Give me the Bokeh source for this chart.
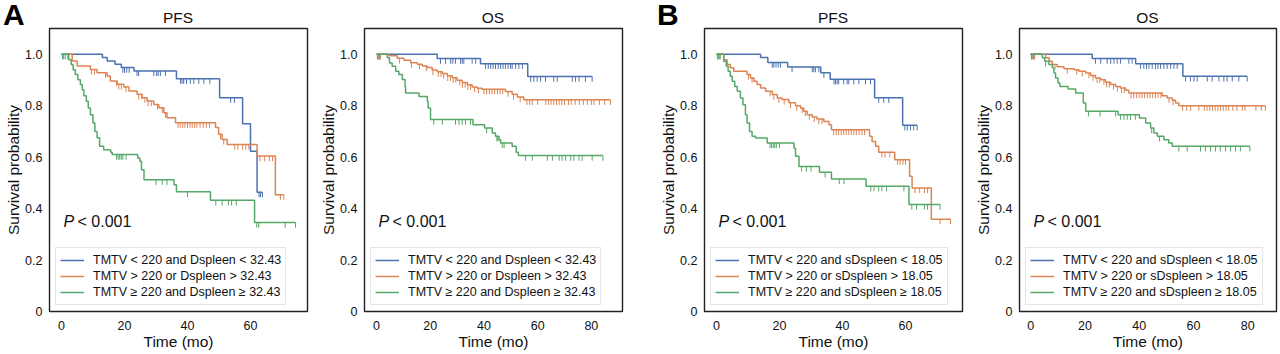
import numpy as np
from bokeh.plotting import figure
from bokeh.layouts import row, column
from bokeh.models import Range1d, FixedTicker, Label, Legend, LegendItem, Div
from bokeh.embed import file_html
from bokeh.resources import INLINE

FONT = "Liberation Sans"
TXT = "#111111"
C_LOW, C_MID, C_HIGH = "#4C72B0", "#DD8452", "#55A868"

# ---------------- texts / ticks ----------------
panel_titles = ["PFS", "OS", "PFS", "OS"]
panel_letters = ["A", "", "B", ""]
y_ticks = [0, 0.2, 0.4, 0.6, 0.8, 1.0]
y_tick_labels = ["0", "0.2", "0.4", "0.6", "0.8", "1.0"]
x_ticks_pfs = [0, 20, 40, 60]
x_ticks_os = [0, 20, 40, 60, 80]
x_label = "Time (mo)"
y_label = "Survival probability"
p_italic = "P"
p_rest = "< 0.001"
legend_a = ["TMTV < 220 and Dspleen < 32.43",
            "TMTV > 220 or Dspleen > 32.43",
            "TMTV \u2265 220 and Dspleen \u2265 32.43"]
legend_b = ["TMTV < 220 and sDspleen < 18.05",
            "TMTV > 220 or sDspleen > 18.05",
            "TMTV \u2265 220 and sDspleen \u2265 18.05"]

# ---------------- A: PFS ----------------
a_pfs_low_t = [13, 14.5, 17, 19, 23, 36.5, 50.2, 57.5, 60, 62.1]
a_pfs_low_s = [0.987, 0.974, 0.961, 0.948, 0.935, 0.905, 0.831, 0.730, 0.623, 0.464]
a_pfs_low_c = [19.5, 20, 20.7, 21.5, 24, 24.5, 29.3, 30.2, 30.7, 31.4, 33, 37.8, 38.3, 38.8, 39.7,
               40.9, 42, 43.6, 45.2, 47.1, 53.7, 54.9, 62.7, 63.2, 63.8]
a_pfs_mid_t = [3.4, 5.0, 9.2, 11.3, 14.5, 15.5, 17.7, 19.8, 21.4, 24.0, 25.6, 27.2, 29.3, 30.9,
               32.5, 33.5, 36.2, 48.9, 49.9, 51.0, 52.6, 62.1, 67.9]
a_pfs_mid_s = [0.974, 0.954, 0.941, 0.928, 0.915, 0.896, 0.883, 0.873, 0.857, 0.844, 0.831, 0.818,
               0.805, 0.792, 0.773, 0.753, 0.734, 0.715, 0.689, 0.669, 0.649, 0.604, 0.454]
a_pfs_mid_c = [2.0, 9.5, 10.5, 14, 17.5, 18.2, 19, 20.5, 24.5, 25.5, 26.5, 27.5, 28.5, 30.5, 32, 33,
               37, 37.7, 38.5, 39.2, 40, 40.8, 41.5, 42.3, 43, 44, 45, 46, 47, 50.5, 51.5, 55, 56,
               57.5, 58.5, 59.5, 63, 64.5, 66, 67, 69.5, 70.6]
a_pfs_high_t = [2.3, 3.1, 3.7, 4.4, 5.2, 6.0, 6.6, 7.1, 7.9, 8.5, 9.2, 10.0, 10.6, 11.3, 12.1, 13.4,
                15.6, 16.1, 24.2, 24.9, 25.4, 26.2, 35.7, 36.5, 47.3, 61.3]
a_pfs_high_s = [0.979, 0.960, 0.940, 0.921, 0.901, 0.882, 0.862, 0.839, 0.817, 0.791, 0.765, 0.733,
                0.700, 0.675, 0.642, 0.629, 0.619, 0.610, 0.597, 0.584, 0.551, 0.512, 0.493, 0.465,
                0.432, 0.346]
a_pfs_high_c = [0.3, 0.7, 1.2, 17.5, 18, 18.5, 19, 19.5, 20.5, 30, 32, 33.5, 40, 49, 51, 53, 54, 55.5,
                62, 62.6, 71, 74.3]

# ---------------- A: OS ----------------
a_os_low_t = [22.6, 38.7, 56.3]
a_os_low_s = [0.983, 0.963, 0.913]
a_os_low_c = [0.5, 1.2, 23.8, 25.7, 27.6, 28.4, 29.4, 31.3, 31.9, 32.5, 35.6, 36.9, 40.6, 41.6, 42.5,
              43.4, 44.3, 45.3, 46.2, 47.1, 48.0, 49.0, 49.9, 50.5, 51.8, 53.0, 54.3, 57.4, 58.6,
              59.8, 61.1, 62.9, 66.0, 67.3, 72.9, 74.1, 75.4, 77.8, 80.3]
a_os_mid_t = [4.6, 7.7, 10.2, 12.7, 15.2, 17.0, 18.9, 20.7, 22.6, 24.5, 26.3, 28.2, 30.0, 31.9,
              33.8, 35.6, 37.5, 39.3, 48.0, 50.5, 52.4, 54.8]
a_os_mid_s = [0.994, 0.984, 0.977, 0.967, 0.961, 0.954, 0.948, 0.939, 0.932, 0.925, 0.916, 0.909,
              0.899, 0.890, 0.881, 0.873, 0.868, 0.864, 0.855, 0.844, 0.834, 0.823]
a_os_mid_c = [0.5, 1.5, 8.5, 13, 16, 18.5, 21, 23, 24, 25, 26.5, 27.5, 28.5, 29.5, 31, 32, 33, 34, 35,
              36.5, 38, 40, 41, 42, 43, 44, 45, 46, 47, 49, 51, 53.5, 56, 57, 58, 60, 63, 64, 65,
              66, 67, 68, 69, 70, 71.5, 72.5, 74, 75.5, 77, 78.5, 80, 81, 83, 85, 87.1]
a_os_high_t = [4.0, 4.8, 5.8, 7.1, 8.3, 9.6, 10.6, 10.8, 15.8, 18.9, 19.2, 20.1, 35.9, 40.2, 43.1,
               44.3, 45.6, 46.2, 50.5, 52.0, 52.8]
a_os_high_s = [0.986, 0.966, 0.953, 0.934, 0.921, 0.902, 0.875, 0.849, 0.836, 0.817, 0.791, 0.746,
               0.726, 0.713, 0.694, 0.681, 0.668, 0.655, 0.642, 0.619, 0.606]
a_os_high_c = [0.3, 1.0, 21.3, 24.5, 29.4, 30.7, 31.9, 33.1, 35.0, 41.0, 44.8, 45.2, 46.8, 47.5, 55.5,
               58.0, 63.6, 65.5, 68.0, 69.1, 70.4, 72.3, 73.5, 75.4, 76.6, 80.3, 84.3]

# ---------------- B: PFS ----------------
b_pfs_low_t = [14, 16.3, 22.6, 33.1, 36.1, 50.2, 59.1]
b_pfs_low_s = [0.987, 0.968, 0.950, 0.928, 0.903, 0.831, 0.724]
b_pfs_low_c = [17.7, 18.2, 18.9, 19.6, 20.3, 24, 30.4, 30.9, 31.4, 32.5, 34.1, 37.3, 37.8, 38.3, 38.8,
               40.4, 41.5, 42, 43.6, 45.2, 47.3, 48.9, 51.5, 53.1, 54.7, 59.8, 60.6, 61.6, 62.6, 63.7]
b_pfs_mid_t = [2.3, 3.4, 4.4, 5.5, 9.7, 10.8, 11.9, 12.9, 14.0, 15.6, 17.7, 19.3, 20.8, 23.0, 25.1,
               26.7, 27.7, 28.8, 30.4, 31.9, 34.1, 35.7, 36.5, 48.6, 49.4, 50.5, 51.5, 56.6, 61.3,
               62.1, 68.2]
b_pfs_mid_s = [0.979, 0.960, 0.947, 0.934, 0.921, 0.908, 0.895, 0.882, 0.869, 0.856, 0.843, 0.830,
               0.824, 0.811, 0.800, 0.791, 0.778, 0.765, 0.756, 0.748, 0.739, 0.726, 0.706, 0.681,
               0.661, 0.642, 0.619, 0.590, 0.526, 0.480, 0.359]
b_pfs_mid_c = [1.0, 10.2, 11.3, 17.0, 18.2, 19.8, 21.5, 23.5, 25.5, 27.2, 28.2, 29.5, 31.0, 32.5, 33.5,
               37.2, 38.0, 38.8, 39.6, 40.4, 41.2, 42.0, 42.8, 43.6, 44.4, 45.3, 46.2, 47.0, 52.5,
               53.5, 55.0, 57.5, 58.3, 59.2, 60.0, 63.0, 64.5, 66.0, 67.0, 71.0, 74.3]
b_pfs_high_t = [2.3, 3.1, 3.7, 4.4, 5.0, 5.8, 6.6, 7.6, 8.4, 9.2, 9.7, 10.5, 11.3, 12.4, 16.1, 24.6,
                25.1, 26.2, 32.7, 36.5, 47.5, 61.1]
b_pfs_high_s = [0.973, 0.953, 0.934, 0.914, 0.895, 0.875, 0.856, 0.830, 0.804, 0.765, 0.733, 0.700,
                0.681, 0.674, 0.655, 0.635, 0.603, 0.564, 0.541, 0.515, 0.487, 0.416]
b_pfs_high_c = [0.3, 0.7, 1.2, 17.0, 17.5, 18.0, 18.5, 19.0, 20.0, 27.0, 28.5, 30.0, 34.5, 39.0, 40.5,
                49.0, 50.0, 51.5, 52.5, 54.0, 59.5, 62.0, 63.5, 66.0, 67.0, 71.0]

# ---------------- B: OS ----------------
b_os_low_t = [22.7, 38.7, 56.1]
b_os_low_s = [0.983, 0.963, 0.914]
b_os_low_c = [0.5, 1.2, 23.9, 25.8, 28.2, 29.5, 30.7, 31.9, 33.1, 36.2, 37.4, 40.5, 41.7, 42.7, 43.6,
              44.8, 46.0, 46.9, 47.9, 49.1, 50.3, 51.6, 52.8, 54.0, 57.1, 58.9, 60.2, 61.4, 65.1,
              66.9, 69.4, 71.2, 72.4, 74.3, 76.7, 79.8]
b_os_mid_t = [5.5, 6.8, 8.0, 9.8, 12.3, 16.0, 17.8, 20.3, 22.1, 23.9, 25.8, 27.6, 29.5, 31.3, 33.1,
              35.0, 36.2, 48.5, 50.3, 52.2, 53.4, 54.6]
b_os_mid_s = [0.986, 0.973, 0.960, 0.951, 0.944, 0.940, 0.934, 0.927, 0.917, 0.908, 0.901, 0.891,
              0.882, 0.875, 0.869, 0.860, 0.849, 0.839, 0.830, 0.821, 0.810, 0.800]
b_os_mid_c = [0.5, 1.5, 9.0, 13.5, 17.0, 19.0, 21.5, 23.0, 24.5, 25.5, 27.0, 28.0, 29.0, 30.5, 32.0,
              33.5, 34.5, 37.0, 38.0, 39.0, 40.0, 41.0, 42.0, 43.0, 44.0, 45.0, 46.0, 47.0, 48.0,
              51.0, 52.5, 56.0, 57.5, 59.0, 62.0, 64.0, 65.0, 66.0, 67.0, 68.0, 69.0, 70.0, 71.0,
              72.0, 73.0, 74.5, 76.0, 78.0, 79.0, 83.0, 85.0, 86.5]
b_os_high_t = [4.3, 5.2, 6.75, 8.0, 8.6, 9.2, 10.1, 10.8, 13.8, 16.6, 19.4, 20.3, 32.2, 40.1, 42.4,
               44.2, 45.4, 46.7, 49.1, 50.9, 52.2]
b_os_high_s = [0.986, 0.973, 0.960, 0.947, 0.927, 0.908, 0.888, 0.875, 0.865, 0.849, 0.810, 0.778,
               0.765, 0.752, 0.733, 0.713, 0.694, 0.681, 0.668, 0.655, 0.642]
b_os_high_c = [0.3, 1.0, 5.5, 21.3, 25.6, 31.3, 33.1, 34.4, 35.6, 36.8, 38.6, 44.6, 47.5, 54.6, 57.7,
               62.6, 64.4, 66.3, 68.1, 69.9, 71.8, 73.7, 75.5, 77.3, 80.8]

FRAME_H = 283
TOP_H = 25


def make_panel(curves, labels, x_rng, x_ticks, frame_w, left, right):
    p = figure(frame_width=frame_w, frame_height=FRAME_H,
               x_range=Range1d(*x_rng), y_range=Range1d(0, 1.1),
               output_backend="svg", toolbar_location=None,
               min_border_left=left, min_border_right=right,
               min_border_top=3, min_border_bottom=43)
    p.background_fill_color = "white"
    p.border_fill_color = "white"
    p.outline_line_color = "#222222"
    p.outline_line_width = 1.4
    p.grid.visible = False

    for ax in (p.xaxis[0], p.yaxis[0]):
        ax.axis_line_color = None
        ax.major_tick_line_color = None
        ax.minor_tick_line_color = None
        ax.major_tick_out = 0
        ax.major_tick_in = 0
        ax.minor_tick_out = 0
        ax.minor_tick_in = 0
        ax.major_label_text_font = FONT
        ax.major_label_text_font_size = "12.5px"
        ax.major_label_text_color = TXT
        ax.axis_label_text_font = FONT
        ax.axis_label_text_font_size = "15.5px"
        ax.axis_label_text_font_style = "normal"
        ax.axis_label_text_color = TXT
    p.xaxis.ticker = FixedTicker(ticks=x_ticks)
    p.yaxis.ticker = FixedTicker(ticks=y_ticks)
    p.yaxis.major_label_overrides = {t: l for t, l in zip(y_ticks, y_tick_labels)}
    p.xaxis.axis_label = x_label
    p.yaxis.axis_label = y_label
    p.xaxis.major_label_standoff = 9
    p.xaxis.axis_label_standoff = 0
    p.yaxis.major_label_standoff = 7
    p.yaxis.axis_label_standoff = 0

    items = []
    for (t, s, c, color), lab in zip(curves, labels):
        xs = [0.0] + list(t) + [max(c)]
        ys = [1.0] + list(s) + [s[-1]]
        r = p.step(x=xs, y=ys, mode="after", line_color=color, line_width=1.5)
        xa = np.array(xs)
        ya = np.array(ys)
        cx = np.array(c, dtype=float)
        idx = np.searchsorted(xa, cx, side="right") - 1
        cy = ya[idx]
        p.segment(x0=cx, y0=cy, x1=cx, y1=cy - 0.02, line_color=color, line_width=1)
        items.append(LegendItem(label=lab, renderers=[r]))

    leg = Legend(items=items, location="bottom_left", margin=6, padding=4, spacing=0,
                 label_height=16, glyph_height=16, glyph_width=24, label_standoff=9,
                 label_text_font=FONT, label_text_font_size="12.5px", label_text_color=TXT,
                 border_line_color="#cccccc", border_line_width=1,
                 background_fill_color="white", background_fill_alpha=0.85)
    p.add_layout(leg)

    p.add_layout(Label(x=14, y=90, x_units="screen", y_units="screen", text=p_italic,
                       text_font=FONT, text_font_size="16px", text_font_style="italic",
                       text_color=TXT, text_baseline="alphabetic"))
    p.add_layout(Label(x=28, y=90, x_units="screen", y_units="screen", text=p_rest,
                       text_font=FONT, text_font_size="16px", text_color=TXT,
                       text_baseline="alphabetic"))
    return p


p1 = make_panel([(a_pfs_low_t, a_pfs_low_s, a_pfs_low_c, C_LOW),
                 (a_pfs_mid_t, a_pfs_mid_s, a_pfs_mid_c, C_MID),
                 (a_pfs_high_t, a_pfs_high_s, a_pfs_high_c, C_HIGH)],
                legend_a, (-3.8, 78.1), x_ticks_pfs, 258, 49, 8)
p2 = make_panel([(a_os_low_t, a_os_low_s, a_os_low_c, C_LOW),
                 (a_os_mid_t, a_os_mid_s, a_os_mid_c, C_MID),
                 (a_os_high_t, a_os_high_s, a_os_high_c, C_HIGH)],
                legend_a, (-4.5, 91.6), x_ticks_os, 258, 49, 28)
p3 = make_panel([(b_pfs_low_t, b_pfs_low_s, b_pfs_low_c, C_LOW),
                 (b_pfs_mid_t, b_pfs_mid_s, b_pfs_mid_c, C_MID),
                 (b_pfs_high_t, b_pfs_high_s, b_pfs_high_c, C_HIGH)],
                legend_b, (-3.8, 78.1), x_ticks_pfs, 258, 54, 8)
p4 = make_panel([(b_os_low_t, b_os_low_s, b_os_low_c, C_LOW),
                 (b_os_mid_t, b_os_mid_s, b_os_mid_c, C_MID),
                 (b_os_high_t, b_os_high_s, b_os_high_c, C_HIGH)],
                legend_b, (-4.1, 90.6), x_ticks_os, 257, 49, 4)

# header row: panel letters and panel titles (frame centres 178, 493, 833, 1147.5)
title_centres = [178, 493, 833, 1147.5]
letter_lefts = [3, None, 657, None]
spans = []
for txt, cx in zip(panel_titles, title_centres):
    spans.append('<span style="position:absolute;left:%.1fpx;top:10px;transform:translateX(-50%%);'
                 'font-size:15.5px;line-height:1;white-space:nowrap;">%s</span>' % (cx, txt))
for let, lx in zip(panel_letters, letter_lefts):
    if let:
        spans.append('<span style="position:absolute;left:%dpx;top:0px;font-size:30px;'
                     'font-weight:bold;line-height:1;color:#000;">%s</span>' % (lx, let))
header_html = ('<div style="position:relative;width:1280px;height:%dpx;font-family:\'Liberation Sans\';'
               'color:%s;">%s</div>' % (TOP_H, TXT, "".join(spans)))
header = Div(text=header_html, width=1280, height=TOP_H, margin=(0, 0, 0, 0))

layout = column(header, row(p1, p2, p3, p4))
open("out.html", "w").write(file_html(layout, INLINE))
